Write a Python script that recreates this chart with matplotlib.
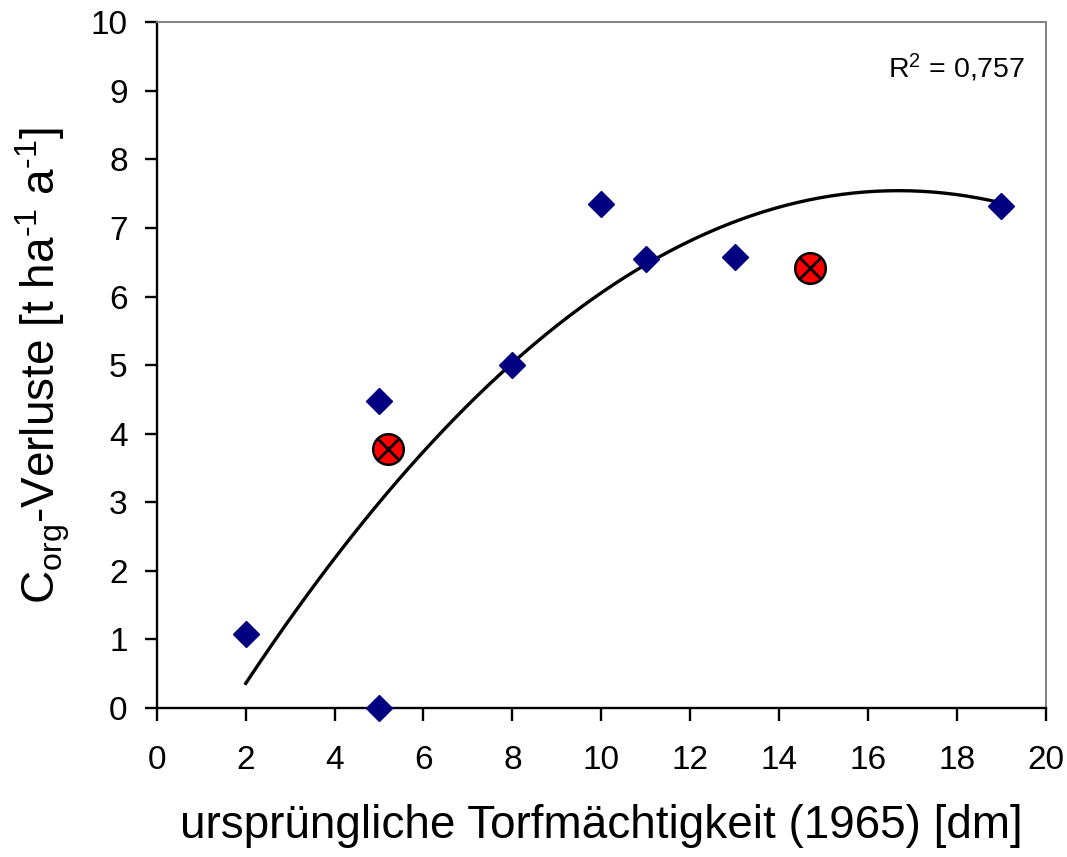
import numpy as np
import matplotlib
matplotlib.use("Agg")
import matplotlib.pyplot as plt

plt.rcParams['font.family'] = ['Liberation Sans', 'DejaVu Sans']
plt.rcParams['mathtext.fontset'] = 'custom'
plt.rcParams['mathtext.rm'] = 'Liberation Sans'
plt.rcParams['mathtext.it'] = 'Liberation Sans:italic'
plt.rcParams['mathtext.bf'] = 'Liberation Sans:bold'

# measured sites (blue diamonds)
depth = [2, 5, 5, 8, 10, 11, 13, 19]
loss = [1.08, 4.47, 0.0, 5.0, 7.35, 6.55, 6.58, 7.32]

# extra sites (red circles)
depth_x = [5.2, 14.7]
loss_x = [3.78, 6.42]

# quadratic trend through the diamonds
coef = np.polyfit(depth, loss, 2)
xt = np.linspace(min(depth), max(depth), 200)
yt = np.polyval(coef, xt)

fig = plt.figure(figsize=(10.67, 8.57), dpi=100)
ax = fig.add_axes([0.147, 0.174, 0.833, 0.8])

ax.plot(xt, yt, color='black', lw=2.4, zorder=2)
ax.plot(depth, loss, 'D', ms=13, color='#000080', mec='#000080', zorder=3,
        clip_on=False)
ax.plot(depth_x, loss_x, 'o', ms=22, mfc='#ff0000', mec='black', mew=1.8,
        zorder=4)
ax.plot(depth_x, loss_x, 'x', ms=15, mec='black', mew=2, zorder=5)

ax.set_xlim(0, 20)
ax.set_ylim(0, 10)
ax.set_xticks(range(0, 21, 2))
ax.set_yticks(range(0, 11))

for s in ['top', 'right']:
    ax.spines[s].set_color('#808080')
    ax.spines[s].set_linewidth(1.4)
for s in ['left', 'bottom']:
    ax.spines[s].set_linewidth(1.7)

ax.tick_params(axis='both', direction='out', length=9, width=1.7,
               labelsize=24)
ax.tick_params(axis='x', pad=18)
ax.tick_params(axis='y', pad=12)

ax.set_xlabel('ursprüngliche Torfmächtigkeit (1965) [dm]', fontsize=33,
              labelpad=20)
ax.set_ylabel(r'C$_{\mathrm{org}}$-Verluste [t ha$^{\text{-}1}$ a$^{\text{-}1}$]',
              fontsize=33)
ax.yaxis.set_label_coords(-0.095, 0.5)

ax.text(0.976, 0.933, r'R$^2$ = 0,757', transform=ax.transAxes,
        fontsize=20.5, ha='right', va='center')

fig.savefig('out.png', dpi=100)
